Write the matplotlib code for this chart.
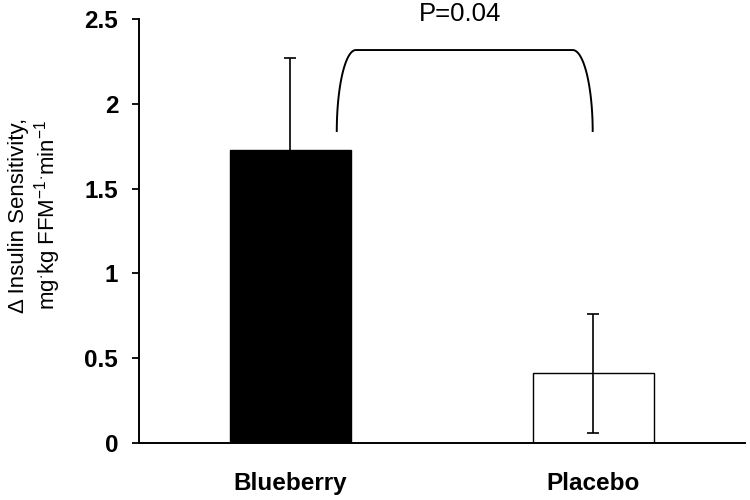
import matplotlib

matplotlib.use("Agg")
import matplotlib.pyplot as plt
import numpy as np

plt.rcParams["font.family"] = ["Liberation Sans", "DejaVu Sans"]
plt.rcParams["mathtext.fontset"] = "custom"
plt.rcParams["mathtext.rm"] = "Liberation Sans"
plt.rcParams["mathtext.it"] = "Liberation Sans"

groups = ["Blueberry", "Placebo"]
means = [1.73, 0.41]
errs = [0.54, 0.35]
fills = ["black", "white"]
yticks = [0, 0.5, 1, 1.5, 2, 2.5]
ytick_labels = ["0", "0.5", "1", "1.5", "2", "2.5"]
p_text = "P=0.04"

fig = plt.figure(figsize=(7.5, 5), dpi=100)
ax = fig.add_axes([0.1853, 0.114, 0.8077, 0.848])

x = np.arange(len(groups))
ax.bar(x, means, width=0.40, color=fills, edgecolor="black", linewidth=1.0, zorder=2)
ax.errorbar(x, means, yerr=errs, fmt="none", ecolor="black", elinewidth=1.2,
            capsize=4, capthick=1.2, zorder=3)

# significance bracket with rounded shoulders
y0, y1 = 1.834, 2.317
xl, xl2, xr2, xr = 0.153, 0.216, 0.932, 0.998
t = np.linspace(0, np.pi / 2, 40)
left_x = xl2 - (xl2 - xl) * np.cos(t)
left_y = y0 + (y1 - y0) * np.sin(t)
right_x = xr2 + (xr - xr2) * np.cos(t[::-1])
right_y = y0 + (y1 - y0) * np.sin(t[::-1])
ax.plot(np.r_[left_x, right_x], np.r_[left_y, right_y], color="black", lw=1.4,
        solid_capstyle="butt", clip_on=False)
ax.text(0.56, 2.53, p_text, ha="center", va="center", fontsize=18.5)

ax.set_xlim(-0.5, 1.5)
ax.set_ylim(0, 2.5)
ax.set_xticks(x)
ax.set_xticklabels(groups, fontsize=17.5, fontweight="bold")
ax.tick_params(axis="x", length=0, pad=21)
ax.set_yticks(yticks)
ax.set_yticklabels(ytick_labels, fontsize=17.5, fontweight="bold")
ax.tick_params(axis="y", direction="out", length=5, width=1.3, pad=10)
for s in ["top", "right"]:
    ax.spines[s].set_visible(False)
for s in ["left", "bottom"]:
    ax.spines[s].set_linewidth(1.4)

fig.text(0.047, 0.57,
         "Δ Insulin Sensitivity,\nmg$^{\\cdot}$kg FFM$^{-1}$$^{\\cdot}$min$^{-1}$",
         rotation=90, ha="center", va="center", multialignment="center",
         fontsize=16, linespacing=1.15)

fig.savefig("out.png", dpi=100)
